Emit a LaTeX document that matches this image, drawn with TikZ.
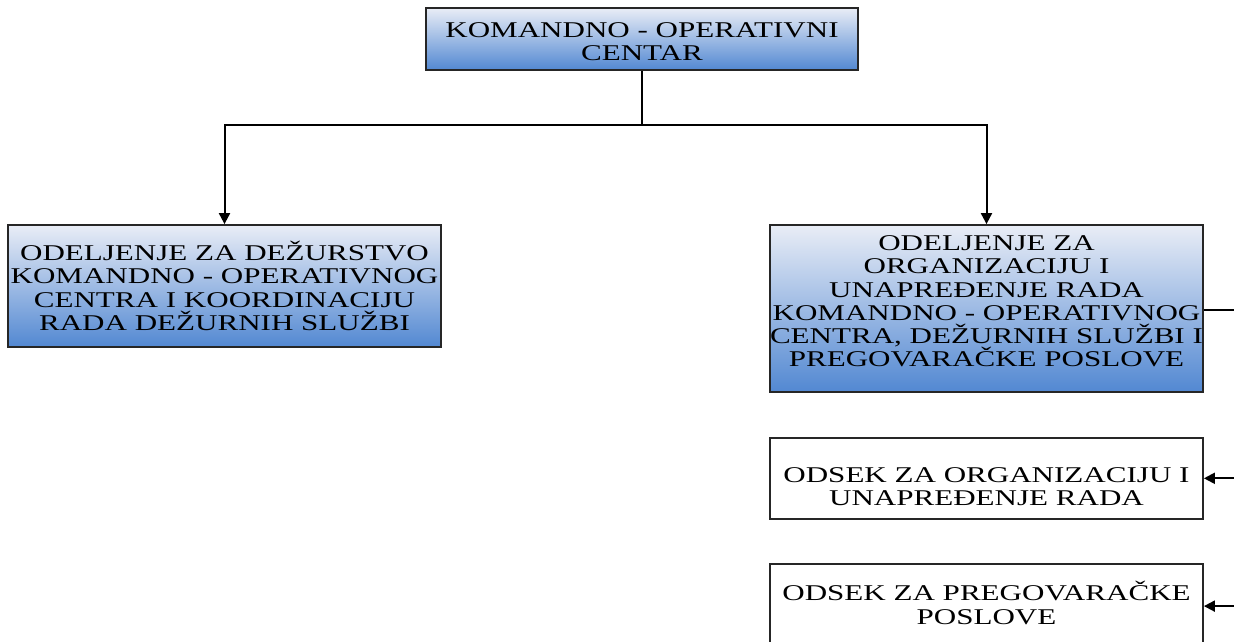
\documentclass[tikz,border=0pt]{standalone}
\usepackage{fontspec}
\newfontfamily\orgfont[FakeStretch=1.38]{Liberation Serif}
\usepackage{tikz}
\usetikzlibrary{positioning, arrows.meta}
\definecolor{boxtop}{RGB}{233,237,246}
\definecolor{boxbottom}{RGB}{82,136,210}
\tikzset{
x=1pt, y=1pt, % one unit is one pixel of the layout
>={Triangle[length=11pt,width=11pt]}, % filled arrow heads
every node/.style={font=\orgfont\fontsize{22.5}{23.2}\selectfont, align=center},
box/.style={draw=black!85, line width=1.8pt, minimum width=433pt, inner sep=1pt}, % plain boxes
unit/.style={box, top color=boxtop, bottom color=boxbottom}, % shaded boxes
link/.style={line width=2pt, black}, % connectors
}

\begin{document}
\begin{tikzpicture}
                \useasboundingbox (0,0) rectangle (1234,-642);
                \node[unit, minimum width=432pt, minimum height=62pt, label={[yshift=-3pt]center:KOMANDNO - OPERATIVNI\\CENTAR}] (kom) at (642,-39) {};
                \coordinate (split) at (642,-125);
                \node[unit, minimum height=122pt] (dez) at (224.5,-286) {ODELJENJE ZA DEŽURSTVO\\KOMANDNO - OPERATIVNOG\\CENTRA I KOORDINACIJU\\RADA DEŽURNIH SLUŽBI};
                \node[unit, minimum height=167pt, label={[yshift=7pt]center:ODELJENJE ZA\\ORGANIZACIJU I\\UNAPREĐENJE RADA\\KOMANDNO - OPERATIVNOG\\CENTRA, DEŽURNIH SLUŽBI I\\PREGOVARAČKE POSLOVE}] (unap) at (986.5,-308.5) {};
                \node[box, minimum height=81pt, below=44pt of unap, label={[yshift=-8pt]center:ODSEK ZA ORGANIZACIJU I\\UNAPREĐENJE RADA}] (org) {};
                \node[box, minimum height=85pt, below=43pt of org, label={[yshift=3pt]center:ODSEK ZA PREGOVARAČKE\\POSLOVE}] (preg) {};
                \coordinate (bus) at (1240,-310);
                \draw[link] (kom.south) -- (split);
                \draw[link, ->] (split) -| (dez.north);
                \draw[link, ->] (split) -| (unap.north);
                \draw[link] (unap.east |- bus) -- (bus) -- (bus |- preg.east);
                \draw[link, ->] (bus |- org.east) -- (org.east);
                \draw[link, ->] (bus |- preg.east) -- (preg.east);
\end{tikzpicture}
\end{document}
